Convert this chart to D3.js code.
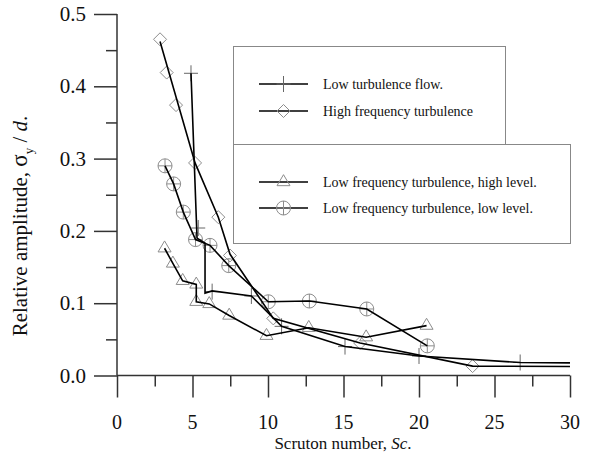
<!DOCTYPE html>
<html>
<head>
<meta charset="utf-8">
<script src="https://cdn.jsdelivr.net/npm/d3@7/dist/d3.min.js"></script>
<style>
  body { margin: 0; background: #fff; }
  svg { display: block; }
  svg text { font-family: "Liberation Serif", "Times New Roman", serif !important; fill: #111; }
</style>
</head>
<body>
<svg id="chart" width="590" height="453"></svg>
<script>
// ---- Data ----
const xTicks = [0, 5, 10, 15, 20, 25, 30];
const yTicks = [0.0, 0.1, 0.2, 0.3, 0.4, 0.5];

// Low turbulence flow (+)
const lowTurbX = [4.9, 5.38, 6.3, 8.9, 10.9, 15.1, 20.0, 26.7];
const lowTurbY = [0.418, 0.204, 0.116, 0.110, 0.068, 0.040, 0.027, 0.018];
const lowTurbLineX = [4.9, 5.3, 5.83, 5.83, 6.3, 8.9, 10.9, 15.1, 20.0, 26.7, 30];
const lowTurbLineY = [0.418, 0.190, 0.183, 0.114, 0.117, 0.110, 0.068, 0.040, 0.027, 0.018, 0.0175];

// High frequency turbulence (diamond)
const highFreqX = [2.85, 3.29, 3.91, 5.17, 6.71, 7.48, 10.35, 16.1, 23.55];
const highFreqY = [0.465, 0.419, 0.374, 0.294, 0.219, 0.166, 0.079, 0.045, 0.013];
const highFreqLineX = [2.85, 5.17, 6.71, 7.48, 10.35, 16.1, 23.55, 30];
const highFreqLineY = [0.462, 0.294, 0.219, 0.168, 0.079, 0.045, 0.013, 0.0125];

// Low frequency turbulence, high level (triangle)
const lfHighX = [3.15, 3.7, 4.35, 5.25, 5.25, 6.11, 7.43, 9.9, 12.7, 16.5, 20.5];
const lfHighY = [0.176, 0.155, 0.131, 0.126, 0.102, 0.099, 0.083, 0.055, 0.066, 0.053, 0.069];

// Low frequency turbulence, low level (circle with cross)
const lfLowX = [3.18, 3.75, 4.39, 5.2, 6.16, 7.4, 10.02, 12.74, 16.54, 20.55];
const lfLowY = [0.290, 0.265, 0.226, 0.188, 0.180, 0.152, 0.102, 0.103, 0.092, 0.041];

const legendLabels = [
  "Low turbulence flow.",
  "High frequency turbulence",
  "Low frequency turbulence, high level.",
  "Low frequency turbulence, low level."
];

// ---- Layout ----
const FONT = '"Liberation Serif", "Times New Roman", serif';
const svg = d3.select("#chart");
const x = d3.scaleLinear().domain([0, 30]).range([117, 570]);
const y = d3.scaleLinear().domain([0, 0.5]).range([375.5, 14]);
const markerColor = "#8c8c8c";
const axisColor = "#333";

// Axes
const gx = svg.append("g").attr("transform", `translate(0,${y(0)})`);
gx.call(d3.axisBottom(x).tickValues(d3.range(0, 30.01, 2.5)).tickSize(11).tickFormat(""));
gx.attr("font-family", FONT);
gx.selectAll(".tick line").filter(d => d % 5 === 0).attr("y2", 22);
gx.select(".domain").remove();
gx.append("line").attr("x1", x(0)).attr("x2", x(30)).attr("stroke", axisColor).attr("stroke-width", 1.5);
gx.selectAll(".tick line").attr("stroke", axisColor).attr("stroke-width", 1.5);
gx.selectAll(".xlab").data(xTicks).enter().append("text")
  .attr("x", d => x(d)).attr("y", 53.5).attr("text-anchor", "middle")
  .style("font-family", FONT).style("font-size", "20px").text(d => d);

const gy = svg.append("g").attr("transform", `translate(${x(0)},0)`);
gy.call(d3.axisLeft(y).tickValues(d3.range(0, 0.501, 0.05)).tickSize(11).tickFormat(""));
gy.attr("font-family", FONT);
gy.selectAll(".tick line").filter((d, i) => i % 2 === 0).attr("x2", -23);
gy.select(".domain").remove();
gy.append("line").attr("y1", y(0)).attr("y2", y(0.5)).attr("stroke", axisColor).attr("stroke-width", 1.5);
gy.selectAll(".tick line").attr("stroke", axisColor).attr("stroke-width", 1.5);
gy.selectAll(".ylab").data(yTicks).enter().append("text")
  .attr("x", -31).attr("y", d => y(d) + 7).attr("text-anchor", "end")
  .style("font-family", FONT).style("font-size", "21px").text(d => d.toFixed(1));

// Axis titles
const xt = svg.append("text").attr("x", 343).attr("y", 449).attr("text-anchor", "middle")
  .style("font-family", FONT).style("font-size", "17px");
xt.append("tspan").text("Scruton number, ");
xt.append("tspan").style("font-style", "italic").text("Sc");
xt.append("tspan").text(".");

const yt = svg.append("text").attr("transform", "translate(27,226) rotate(-90)").attr("text-anchor", "middle")
  .style("font-family", FONT).style("font-size", "21px");
yt.append("tspan").text("Relative amplitude, ");
yt.append("tspan").style("font-size", "23px").text("σ");
yt.append("tspan").attr("dy", 6).style("font-size", "13px").text("y");
yt.append("tspan").attr("dy", -6).text(" / ");
yt.append("tspan").style("font-style", "italic").text("d");
yt.append("tspan").text(".");

// Legend boxes
svg.append("rect").attr("x", 233.5).attr("y", 46.5).attr("width", 272).attr("height", 98)
  .attr("fill", "white").attr("stroke", "#888");
svg.append("rect").attr("x", 233.5).attr("y", 144.5).attr("width", 337).attr("height", 99)
  .attr("fill", "white").attr("stroke", "#888");

// Marker drawers
function drawPlus(g, cx, cy) {
  g.append("line").attr("x1", cx - 7).attr("x2", cx + 7).attr("y1", cy).attr("y2", cy).attr("stroke", "#666").attr("stroke-width", 1);
  g.append("line").attr("x1", cx).attr("x2", cx).attr("y1", cy - 8).attr("y2", cy + 8).attr("stroke", "#666").attr("stroke-width", 1);
}
function drawDiamond(g, cx, cy) {
  const r = 6.5;
  g.append("path").attr("d", `M${cx},${cy - r}L${cx + r},${cy}L${cx},${cy + r}L${cx - r},${cy}Z`)
    .attr("fill", "none").attr("stroke", markerColor).attr("stroke-width", 1);
}
function drawTriangle(g, cx, cy) {
  const w = 6.5, h = 11;
  g.append("path").attr("d", `M${cx},${cy - h * 2 / 3}L${cx + w},${cy + h / 3}L${cx - w},${cy + h / 3}Z`)
    .attr("fill", "none").attr("stroke", markerColor).attr("stroke-width", 1);
}
function drawCircle(g, cx, cy) {
  const r = 7;
  g.append("circle").attr("cx", cx).attr("cy", cy).attr("r", r).attr("fill", "none").attr("stroke", markerColor).attr("stroke-width", 1);
  g.append("line").attr("x1", cx - r).attr("x2", cx + r).attr("y1", cy).attr("y2", cy).attr("stroke", markerColor).attr("stroke-width", 1);
  g.append("line").attr("x1", cx).attr("x2", cx).attr("y1", cy - r).attr("y2", cy + r).attr("stroke", markerColor).attr("stroke-width", 1);
}

const line = d3.line().x(d => x(d[0])).y(d => y(d[1]));
const zip = (a, b) => a.map((v, i) => [v, b[i]]);

const series = [
  { mx: lowTurbX, my: lowTurbY, lx: lowTurbLineX, ly: lowTurbLineY, draw: drawPlus },
  { mx: highFreqX, my: highFreqY, lx: highFreqLineX, ly: highFreqLineY, draw: drawDiamond },
  { mx: lfHighX, my: lfHighY, lx: lfHighX, ly: lfHighY, draw: drawTriangle },
  { mx: lfLowX, my: lfLowY, lx: lfLowX, ly: lfLowY, draw: drawCircle }
];

const gm = svg.append("g");
series.forEach(s => {
  zip(s.mx, s.my).forEach(p => s.draw(gm, x(p[0]), y(p[1])));
});
const gl = svg.append("g");
series.forEach(s => {
  gl.append("path").attr("d", line(zip(s.lx, s.ly))).attr("fill", "none")
    .attr("stroke", "#000").attr("stroke-width", 1.6);
});

// Legend entries
const legY = [84, 111, 182, 208];
const gleg = svg.append("g");
legendLabels.forEach((lab, i) => {
  gleg.append("line").attr("x1", 259).attr("x2", 308).attr("y1", legY[i]).attr("y2", legY[i])
    .attr("stroke", "#000").attr("stroke-width", 1.6);
  series[i].draw(gleg, 283.5, legY[i]);
  gleg.append("text").attr("x", 323).attr("y", legY[i] + 5)
    .style("font-family", FONT).style("font-size", "14px").text(lab);
});
</script>
</body>
</html>
